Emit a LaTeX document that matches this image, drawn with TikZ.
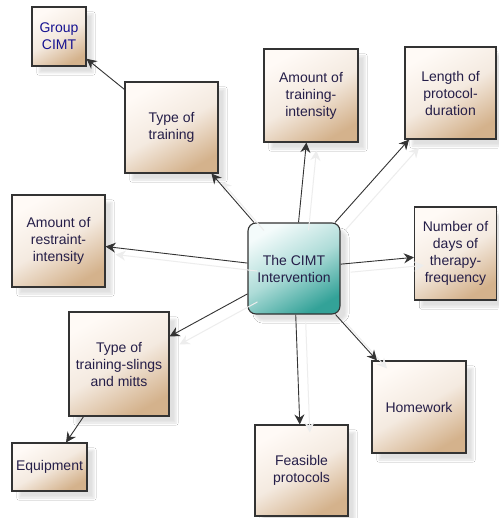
\documentclass[tikz,border=0pt]{standalone}
\usepackage{fontspec}
\setmainfont{Liberation Sans}
\usetikzlibrary{arrows.meta,shadows.blur}
\definecolor{tanlight}{HTML}{FFFAF6}
\definecolor{tanmid}{HTML}{F4EAE0}
\definecolor{tandark}{HTML}{D4B28C}
\definecolor{teallight}{HTML}{F4FBFB}
\definecolor{tealmid}{HTML}{AEDCD8}
\definecolor{tealdark}{HTML}{33A298}
\definecolor{txt}{HTML}{251E48}
\definecolor{edgec}{HTML}{333333}
\tikzset{
  box/.style={draw=edgec, line width=1.1pt, align=center, text=txt,
    font=\fontsize{14}{17}\selectfont, inner sep=0pt,
    top color=tanlight, bottom color=tandark, middle color=tanmid, shading angle=30,
    blur shadow={shadow xshift=7pt, shadow yshift=-7pt, shadow opacity=12, shadow blur steps=6}},
  hub/.style={box, rounded corners=8pt, top color=teallight, bottom color=tealdark, middle color=tealmid, shading angle=30},
  conn/.style={draw=edgec, line width=0.9pt, -{Stealth[length=10pt,width=10pt]}},
  ghost/.style={draw=black!7, line width=1pt, -{Stealth[length=10pt,width=10pt]},
    transform canvas={xshift=10pt,yshift=-8pt}}
}
\begin{document}
\begin{tikzpicture}[x=1pt,y=-1pt]
\useasboundingbox[fill=white] (0,0) rectangle (498,518);
\node[hub, minimum width=92pt, minimum height=91pt] (c) at (294,268.5) {The CIMT\\Intervention};
\node[box, minimum width=54pt, minimum height=59pt, text=blue!40!txt] (g) at (59,36.5) {Group\\CIMT};
\node[box, minimum width=93pt, minimum height=91pt] (t) at (171.5,127.5) {Type of\\training};
\node[box, minimum width=94pt, minimum height=93pt] (ti) at (311,95.5) {Amount of\\training-\\intensity};
\node[box, minimum width=91pt, minimum height=92pt] (l) at (450.5,93) {Length of\\protocol-\\duration};
\node[box, minimum width=93pt, minimum height=92pt] (r) at (58.5,241) {Amount of\\restraint-\\intensity};
\node[box, minimum width=82pt, minimum height=93pt] (n) at (455.5,253.5) {Number of\\days of\\therapy-\\frequency};
\node[box, minimum width=100pt, minimum height=104pt] (s) at (119,364) {Type of\\training-slings\\and mitts};
\node[box, minimum width=75pt, minimum height=48pt] (e) at (49.5,467) {Equipment};
\node[box, minimum width=94pt, minimum height=92pt] (h) at (419,407) {Homework};
\node[box, minimum width=93pt, minimum height=91pt] (f) at (301.5,470.5) {Feasible\\protocols};
% connector shadows
\draw[ghost] (c) -- (t);
\draw[ghost] (c) -- (ti);
\draw[ghost] (c) -- (l);
\draw[ghost] (c) -- (r);
\draw[ghost] (c) -- (n);
\draw[ghost] (c) -- (s);
\draw[ghost] (c) -- (h);
\draw[ghost] (c) -- (f);
% connectors
\draw[conn] (c) -- (t);
\draw[conn] (t) -- (g);
\draw[conn] (c) -- (ti);
\draw[conn] (c) -- (l);
\draw[conn] (c) -- (r);
\draw[conn] (c) -- (n);
\draw[conn] (c) -- (s);
\draw[conn] (s) -- (e);
\draw[conn] (c) -- (h);
\draw[conn] (c) -- (f);
\end{tikzpicture}
\end{document}
